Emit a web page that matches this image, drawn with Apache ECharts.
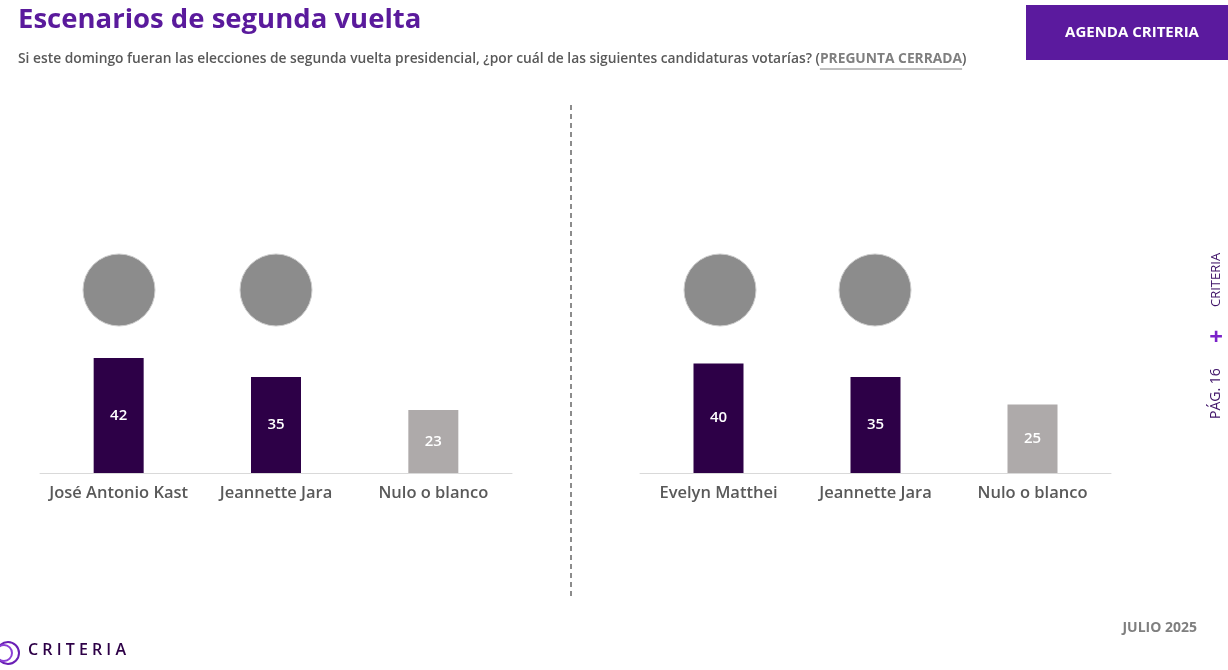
<!DOCTYPE html>
<html><head><meta charset="utf-8">
<script src="https://cdn.jsdelivr.net/npm/echarts@6/dist/echarts.min.js"></script>
<style>html,body{margin:0;padding:0;background:#fff}#c{width:1228px;height:670px}</style>
</head><body><div id="c"></div>
<script>
const catsA = ['José Antonio Kast','Jeannette Jara','Nulo o blanco'];
const valsA = [42,35,23];
const catsB = ['Evelyn Matthei','Jeannette Jara','Nulo o blanco'];
const valsB = [40,35,25];
const DARK='#2d0047', GREY='#aeaaaa';
const col = (v,i)=>({value:v,itemStyle:{color:i===2?GREY:DARK}});
const font='"Open Sans", sans-serif';
const SUBF='600 13.8px '+font, SUBU='bold 13.8px '+font;
const subA='Si este domingo fueran las elecciones de segunda vuelta presidencial, ¿por cuál de las siguientes candidaturas votarías? (';
const subU='PREGUNTA CERRADA';
const ctx=document.createElement('canvas').getContext('2d');
ctx.font=SUBF; const wA=ctx.measureText(subA).width;
ctx.font=SUBU; const wU=ctx.measureText(subU).width;
const chart = echarts.init(document.getElementById('c'));
function xa(i,cats){return {gridIndex:i,type:'category',data:cats,axisTick:{show:true,length:0},
  axisLine:{lineStyle:{color:'#d9d9d9'}},splitLine:{show:false},
  axisLabel:{color:'#595959',fontSize:16.5,fontWeight:600,fontFamily:font,margin:12,interval:0}};}
function ya(i){return {gridIndex:i,type:'value',min:0,max:100,show:false};}
function sr(i,vals){return {type:'bar',xAxisIndex:i,yAxisIndex:i,barWidth:50,data:vals.map(col),
  label:{show:true,position:'inside',color:'#fff',fontSize:15,fontWeight:600,fontFamily:font}};}
const circ=(x)=>({type:'circle',shape:{cx:x,cy:290,r:36},style:{fill:'#8c8c8c',stroke:'#ccc',lineWidth:1}});
chart.setOption({
  animation:false,
  grid:[{left:40,width:472,top:199,height:274},{left:640,width:471,top:199,height:274}],
  xAxis:[xa(0,catsA),xa(1,catsB)],
  yAxis:[ya(0),ya(1)],
  series:[sr(0,valsA),sr(1,valsB)],
  graphic:[
    {type:'text',left:18,top:6,style:{text:'Escenarios de segunda vuelta',fill:'#5a1a9c',font:'bold 27.5px '+font}},
    {type:'text',left:18,top:52,style:{rich:{a:{fill:'#595959',font:SUBF},u:{fill:'#7f7f7f',font:SUBU}},
      text:'{a|'+subA+'}{u|'+subU+'}{a|)}'}},
    {type:'line',shape:{x1:18+wA,y1:69,x2:18+wA+wU,y2:69},style:{stroke:'#7f7f7f',lineWidth:1}},
    {type:'rect',shape:{x:1026,y:5,width:202,height:55},style:{fill:'#5b1a9e'}},
    {type:'text',x:1132,y:33,style:{text:'AGENDA CRITERIA',fill:'#fff',font:'bold 15px '+font,align:'center',verticalAlign:'middle'}},
    {type:'line',shape:{x1:571,y1:105,x2:571,y2:597},style:{stroke:'#8c8c8c',lineWidth:2,lineDash:[5,4]}},
    circ(119),circ(276),circ(720),circ(875),
    {type:'text',x:1216,y:419,rotation:Math.PI/2,style:{text:'PÁG. 16',fill:'#3d1066',font:'14px '+font,align:'left',verticalAlign:'middle'}},
    {type:'text',x:1216,y:338,style:{text:'+',fill:'#7a22c9',font:'bold 24px '+font,align:'center',verticalAlign:'middle'}},
    {type:'text',x:1216,y:307,rotation:Math.PI/2,style:{text:'CRITERIA',fill:'#3d1066',font:'13px '+font,align:'left',verticalAlign:'middle'}},
    {type:'text',right:31,top:621,style:{text:'JULIO 2025',fill:'#7f7f7f',font:'bold 14px '+font}},
    {type:'circle',shape:{cx:8,cy:653,r:11},style:{fill:'none',stroke:'#6a1fb5',lineWidth:2}},
    {type:'circle',shape:{cx:4,cy:653,r:8},style:{fill:'none',stroke:'#8b3fd6',lineWidth:2}},
    {type:'text',left:28,top:642,style:{text:'C R I T E R I A',fill:'#2d0047',font:'600 16px '+font}}
  ]
});
</script></body></html>
